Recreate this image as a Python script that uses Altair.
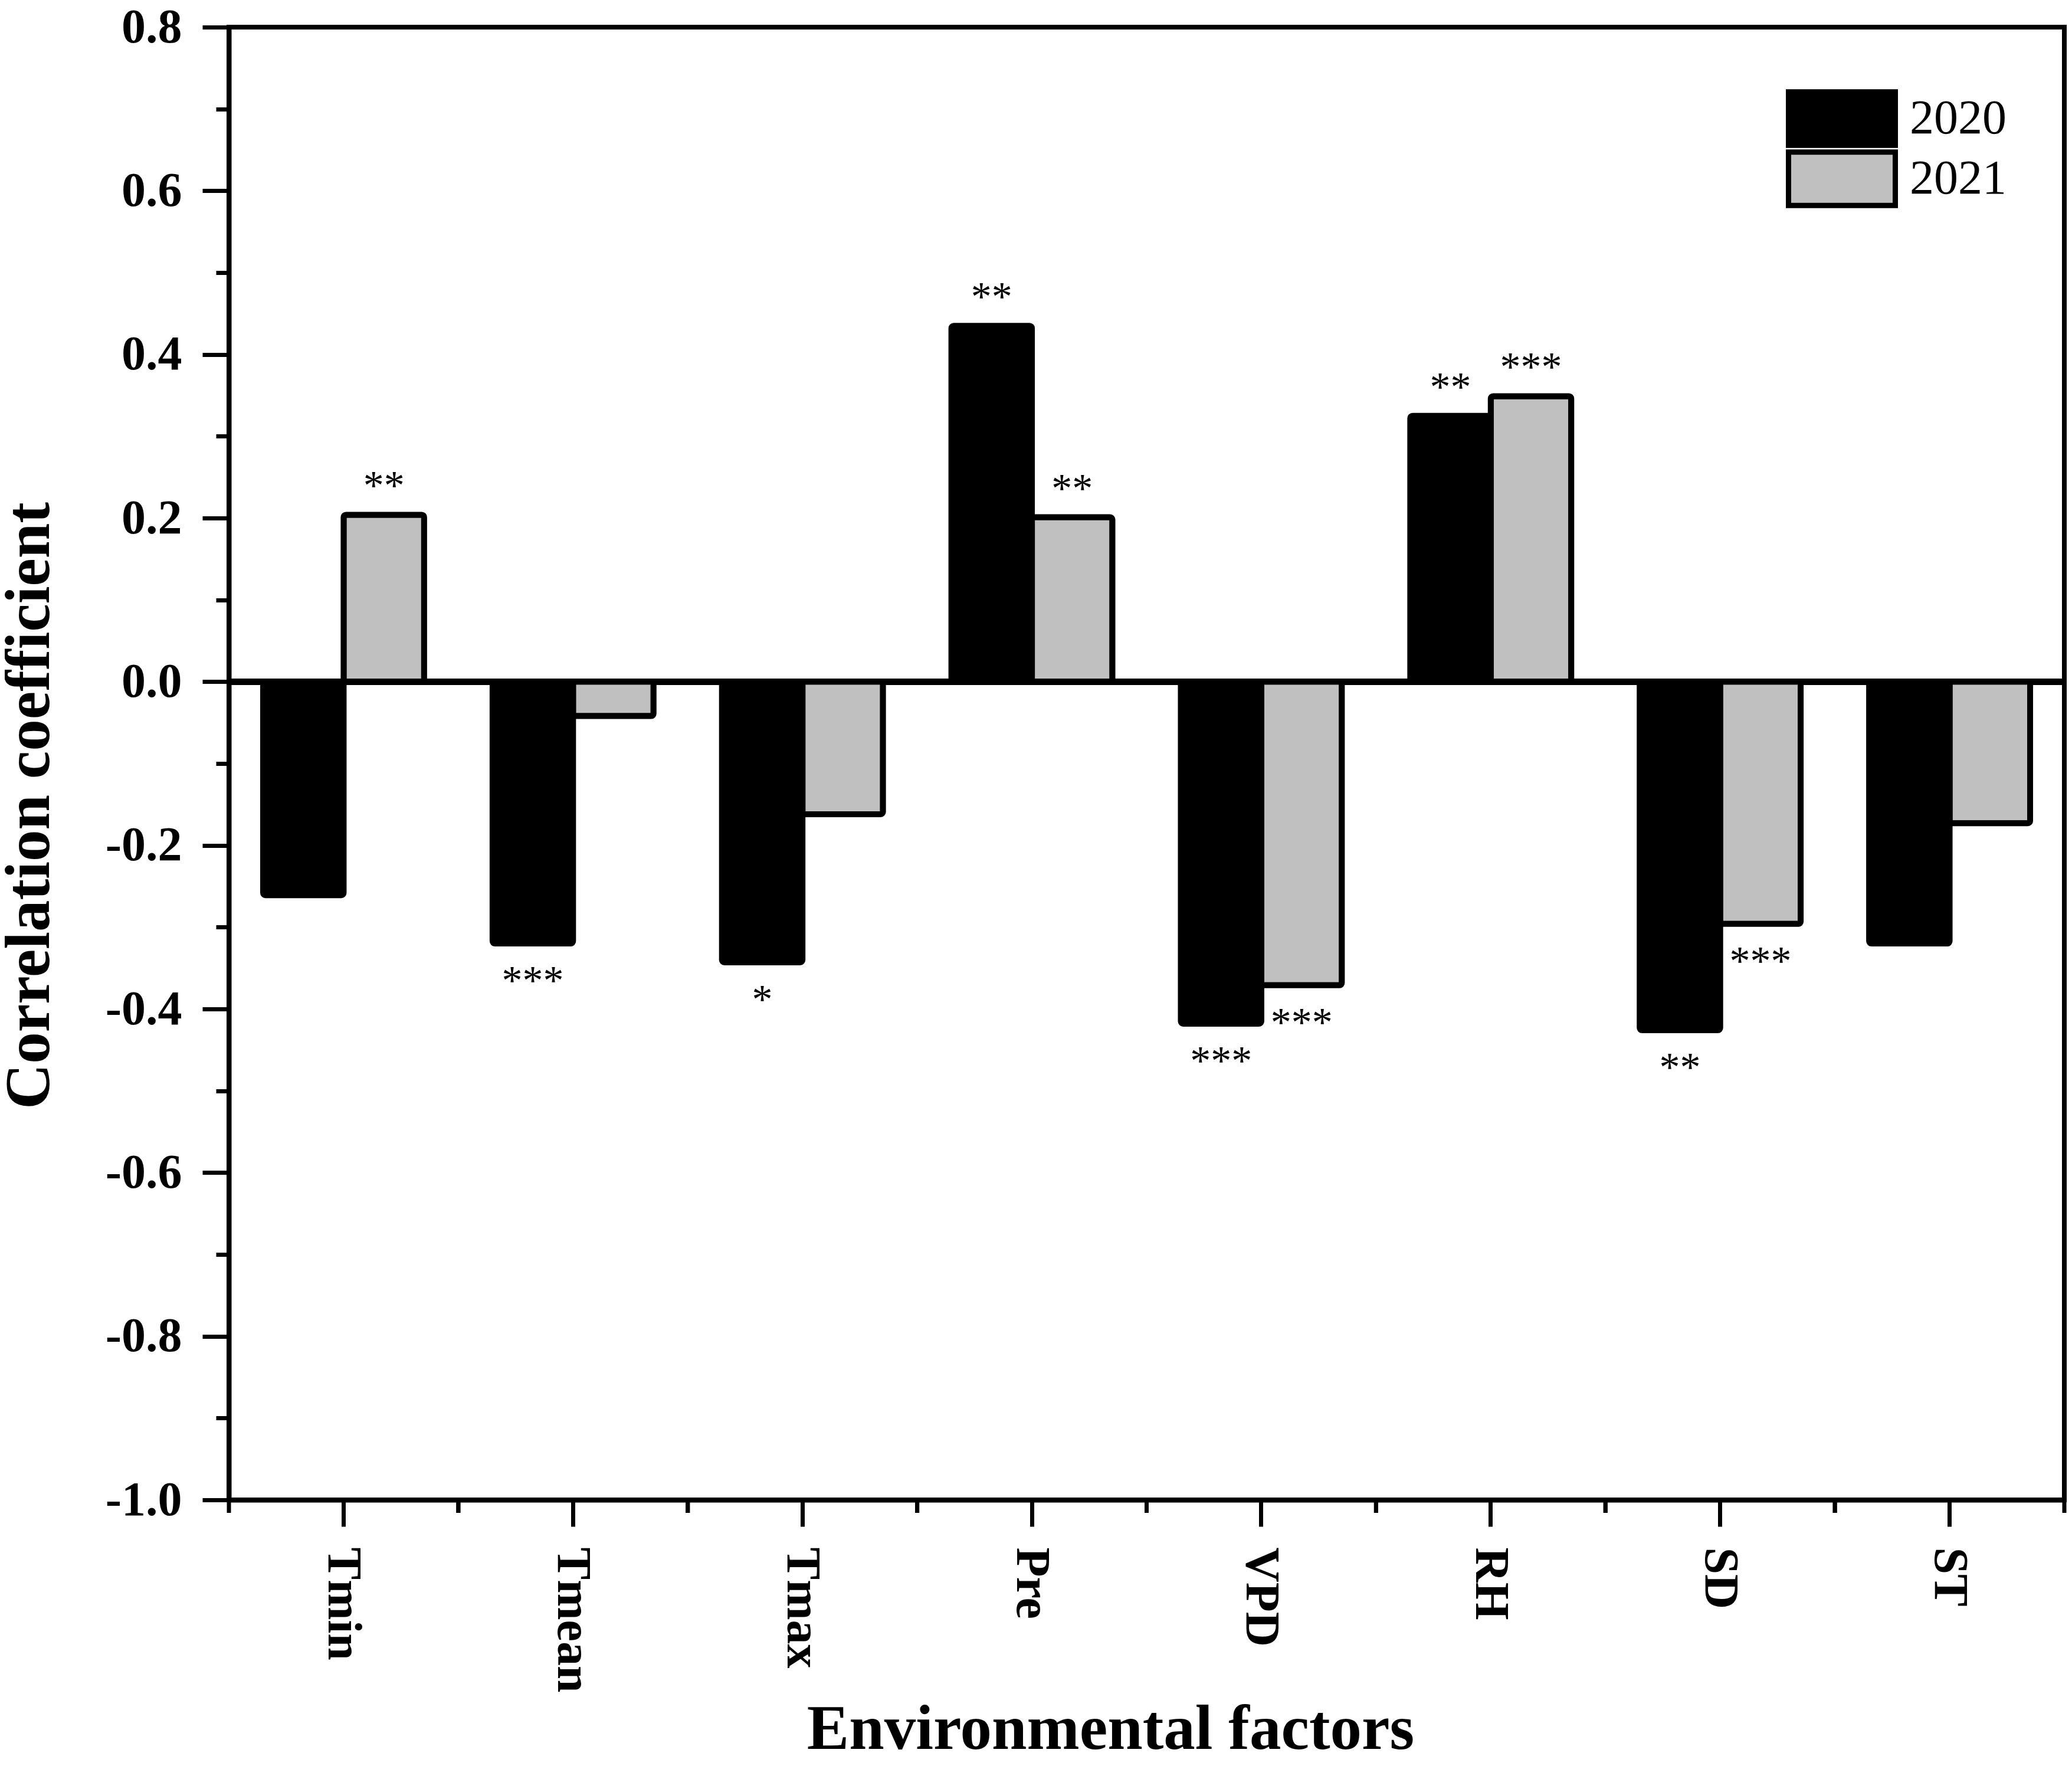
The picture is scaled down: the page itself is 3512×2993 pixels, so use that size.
import altair as alt
import pandas as pd

factors = ["Tmin", "Tmean", "Tmax", "Pre", "VPD", "RH", "SD", "ST"]
years = ["2020", "2021"]
r2020 = [-0.261, -0.320, -0.343, 0.435, -0.418, 0.325, -0.426, -0.320]
r2021 = [0.204, -0.042, -0.162, 0.201, -0.371, 0.349, -0.296, -0.173]
sig2020 = ["", "***", "*", "**", "***", "**", "**", ""]
sig2021 = ["**", "", "", "**", "***", "***", "***", ""]
y_ticks = [-1.0, -0.9, -0.8, -0.7, -0.6, -0.5, -0.4, -0.3, -0.2, -0.1,
           0.0, 0.1, 0.2, 0.3, 0.4, 0.5, 0.6, 0.7, 0.8]
colors = ["#000000", "#c0c0c0"]

rows = []
for i, f in enumerate(factors):
    rows.append({"factor": f, "year": years[0], "value": r2020[i], "sig": sig2020[i]})
    rows.append({"factor": f, "year": years[1], "value": r2021[i], "sig": sig2021[i]})
df = pd.DataFrame(rows)

TOP = 38                 # plot top at 8 + TOP (absolute)
PT = 8 + TOP
PB = 2542                # plot bottom (absolute)
W, H = 3111, PB - PT
FONT = "Liberation Serif"

xscale = alt.Scale(paddingInner=0, paddingOuter=0)
xoff = alt.XOffset("year:N", sort=years, scale=alt.Scale(paddingInner=0, paddingOuter=0.425))
yscale = alt.Scale(domain=[-1.0, 0.8], nice=False, zero=False)

x_axis = alt.Axis(
    title="Environmental factors", labelAngle=90, labelAlign="left", labelBaseline="middle",
    tickSize=45, tickWidth=7, tickColor="black", domainWidth=8, domainColor="black",
    labelFont=FONT, labelFontSize=82, labelFontWeight="bold", labelColor="black", labelPadding=35,
    labelLimit=1000,
    titleFont=FONT, titleFontSize=107, titleFontWeight="bold", titleColor="black",
    titleX=1494, titleY=2963 - PB, titleBaseline="alphabetic",
    grid=False,
)
y_axis = alt.Axis(
    title="Correlation coefficient", values=y_ticks,
    labelExpr="round(datum.value*10) % 2 != 0 ? '' : (datum.value < -0.001 ? '-' : '') + format(abs(datum.value), '.1f')",
    tickSize={"condition": {"test": "round(datum.value*10) % 2 != 0", "value": 22}, "value": 45},
    tickWidth=7, tickColor="black", domainWidth=8, domainColor="black",
    labelFont=FONT, labelFontSize=82, labelFontWeight="bold", labelColor="black", labelPadding=35,
    labelOverlap=False, labelFlush=False, labelLimit=1000,
    titleFont=FONT, titleFontSize=107, titleFontWeight="bold", titleColor="black",
    titleX=-306, titleY=1365 - PT, titleBaseline="alphabetic",
    grid=False,
)

base = alt.Chart(df)

bars = base.mark_bar(stroke="black", strokeWidth=10, cornerRadius=4).encode(
    x=alt.X("factor:N", sort=factors, scale=xscale, axis=x_axis),
    xOffset=xoff,
    y=alt.Y("value:Q", scale=yscale, axis=y_axis),
    color=alt.Color("year:N", sort=years, scale=alt.Scale(domain=years, range=colors),
                    legend=alt.Legend(title=None, orient="none", legendX=3027 - 388, legendY=151 - PT,
                                      symbolType="M-2,-1H2V1H-2Z", symbolSize=8190,
                                      symbolStrokeColor="black", symbolStrokeWidth=9,
                                      symbolOffset=45,
                                      symbolOpacity=1, labelFont=FONT, labelFontSize=82,
                                      labelColor="black", labelOffset=65,
                                      clipHeight=100, rowPadding=2,
                                      labelLimit=1000, padding=0)),
)

zero = base.mark_rule(color="black", strokeWidth=10).encode(y=alt.datum(0))

pos_txt = base.transform_filter("datum.value > 0 && datum.sig != ''").mark_text(
    font=FONT, fontSize=70, color="black", align="center", baseline="alphabetic", dy=-26
).encode(
    x=alt.X("factor:N", sort=factors, scale=xscale),
    xOffset=xoff,
    y=alt.Y("value:Q", scale=yscale),
    text="sig:N",
)
neg_txt = base.transform_filter("datum.value < 0 && datum.sig != ''").mark_text(
    font=FONT, fontSize=70, color="black", align="center", baseline="alphabetic", dy=86
).encode(
    x=alt.X("factor:N", sort=factors, scale=xscale),
    xOffset=xoff,
    y=alt.Y("value:Q", scale=yscale),
    text="sig:N",
)

minor_l = base.transform_filter("datum.year == '2020'").mark_rule(color="black", strokeWidth=7).encode(
    x=alt.X("factor:N", sort=factors, scale=xscale, bandPosition=0),
    y=alt.value(H), y2=alt.value(H + 22),
)
minor_r = base.transform_filter("datum.year == '2020'").mark_rule(color="black", strokeWidth=7).encode(
    x=alt.X("factor:N", sort=factors, scale=xscale, bandPosition=1),
    y=alt.value(H), y2=alt.value(H + 22),
)

chart = alt.layer(zero, bars, pos_txt, neg_txt, minor_l, minor_r).properties(
    width=W, height=H,
    padding={"left": 380, "top": TOP, "right": 5, "bottom": 2993 - 16 - TOP - H},
    autosize=alt.AutoSizeParams(type="none"),
    background="white",
).configure_view(stroke="black", strokeWidth=8)

chart.save("out.html", embed_options={"renderer": "svg", "actions": False})
